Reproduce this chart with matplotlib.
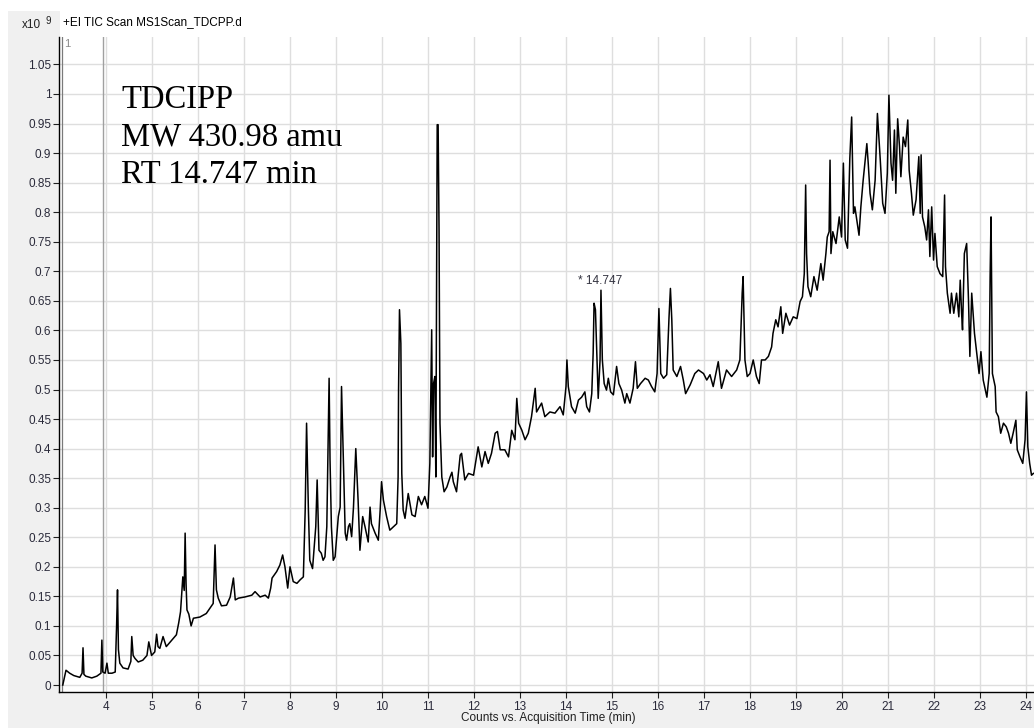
import matplotlib
matplotlib.use("Agg")
import matplotlib.pyplot as plt
from matplotlib.patches import Rectangle

# ---- data (time in min, counts in units of 1e9) ----
time_min = [
    3.06, 3.13, 3.21, 3.30, 3.43, 3.48, 3.50, 3.52, 3.56, 3.69, 3.80, 3.89, 3.91, 3.93, 3.98,
    4.02, 4.05, 4.13, 4.20, 4.23, 4.25, 4.27, 4.30, 4.37, 4.48, 4.54, 4.56, 4.59, 4.63, 4.70,
    4.80, 4.89, 4.93, 4.99, 5.06, 5.10, 5.13, 5.17, 5.24, 5.31, 5.43, 5.53, 5.58, 5.62, 5.67,
    5.70, 5.72, 5.74, 5.76, 5.80, 5.85, 5.90, 6.04, 6.18, 6.26, 6.33, 6.37, 6.40, 6.44, 6.51,
    6.62, 6.70, 6.77, 6.81, 6.88, 7.02, 7.17, 7.24, 7.35, 7.46, 7.53, 7.58, 7.61, 7.71, 7.78,
    7.84, 7.89, 7.95, 8.00, 8.07, 8.15, 8.22, 8.29, 8.33, 8.36, 8.40, 8.43, 8.49, 8.56, 8.59,
    8.63, 8.68, 8.72, 8.76, 8.80, 8.85, 8.87, 8.90, 8.94, 8.98, 9.05, 9.09, 9.12, 9.16, 9.20,
    9.23, 9.27, 9.30, 9.34, 9.38, 9.43, 9.48, 9.52, 9.58, 9.63, 9.70, 9.74, 9.77, 9.85, 9.92,
    9.96, 9.99, 10.03, 10.10, 10.17, 10.25, 10.32, 10.35, 10.36, 10.38, 10.41, 10.43, 10.46,
    10.50, 10.57, 10.65, 10.72, 10.79, 10.86, 10.93, 11.00, 11.04, 11.08, 11.10, 11.12, 11.15,
    11.17, 11.20, 11.22, 11.24, 11.26, 11.30, 11.35, 11.41, 11.48, 11.52, 11.55, 11.62, 11.70,
    11.73, 11.80, 11.88, 11.99, 12.09, 12.17, 12.24, 12.31, 12.38, 12.46, 12.51, 12.57, 12.67,
    12.75, 12.82, 12.89, 12.93, 12.97, 13.04, 13.11, 13.18, 13.25, 13.33, 13.36, 13.47, 13.54,
    13.65, 13.76, 13.87, 13.94, 14.00, 14.02, 14.05, 14.12, 14.20, 14.27, 14.34, 14.41, 14.45,
    14.51, 14.56, 14.59, 14.61, 14.64, 14.67, 14.70, 14.74, 14.76, 14.79, 14.83, 14.88, 14.92,
    14.97, 15.03, 15.10, 15.15, 15.21, 15.28, 15.32, 15.39, 15.46, 15.51, 15.55, 15.62, 15.72,
    15.79, 15.86, 15.93, 15.98, 16.02, 16.06, 16.12, 16.19, 16.24, 16.27, 16.30, 16.33, 16.41,
    16.49, 16.55, 16.60, 16.70, 16.80, 16.88, 16.99, 17.06, 17.13, 17.20, 17.31, 17.38, 17.49,
    17.60, 17.71, 17.78, 17.83, 17.85, 17.89, 17.94, 18.00, 18.07, 18.14, 18.20, 18.25, 18.33,
    18.40, 18.47, 18.50, 18.56, 18.61, 18.67, 18.71, 18.78, 18.86, 18.94, 19.02, 19.09, 19.14,
    19.18, 19.21, 19.23, 19.26, 19.32, 19.39, 19.46, 19.54, 19.59, 19.65, 19.68, 19.72, 19.74,
    19.76, 19.80, 19.87, 19.94, 19.99, 20.03, 20.07, 20.12, 20.17, 20.21, 20.25, 20.28, 20.37,
    20.41, 20.46, 20.54, 20.57, 20.61, 20.66, 20.72, 20.77, 20.83, 20.885, 20.935, 20.985,
    21.02, 21.065, 21.10, 21.14, 21.17, 21.21, 21.25, 21.28, 21.33, 21.38, 21.43, 21.46, 21.51,
    21.55, 21.61, 21.67, 21.70, 21.72, 21.75, 21.80, 21.84, 21.88, 21.91, 21.95, 21.99, 22.02,
    22.07, 22.13, 22.19, 22.23, 22.25, 22.29, 22.35, 22.38, 22.43, 22.49, 22.54, 22.57, 22.60,
    22.62, 22.66, 22.71, 22.75, 22.78, 22.82, 22.88, 22.93, 22.98, 23.02, 23.07, 23.15, 23.20,
    23.22, 23.24, 23.27, 23.33, 23.35, 23.40, 23.45, 23.51, 23.57, 23.62, 23.67, 23.72, 23.78,
    23.81, 23.87, 23.93, 23.98, 24.01, 24.04, 24.08, 24.12, 24.16,
]
counts_e9 = [
    0.000, 0.025, 0.020, 0.016, 0.013, 0.020, 0.063, 0.018, 0.015, 0.012, 0.015, 0.020, 0.076, 0.022, 0.020,
    0.037, 0.020, 0.020, 0.022, 0.100, 0.161, 0.060, 0.037, 0.029, 0.027, 0.040, 0.082, 0.050, 0.045, 0.039,
    0.042, 0.050, 0.073, 0.050, 0.056, 0.086, 0.065, 0.062, 0.082, 0.065, 0.076, 0.085, 0.105, 0.124, 0.183,
    0.160, 0.257, 0.172, 0.127, 0.120, 0.100, 0.113, 0.115, 0.121, 0.130, 0.138, 0.237, 0.161, 0.147, 0.134,
    0.135, 0.149, 0.181, 0.144, 0.147, 0.149, 0.152, 0.158, 0.149, 0.152, 0.147, 0.164, 0.181, 0.192, 0.203,
    0.220, 0.200, 0.164, 0.200, 0.175, 0.172, 0.178, 0.183, 0.296, 0.443, 0.296, 0.211, 0.197, 0.268, 0.347,
    0.228, 0.223, 0.211, 0.217, 0.268, 0.519, 0.381, 0.268, 0.211, 0.217, 0.285, 0.301, 0.505, 0.381, 0.257,
    0.245, 0.268, 0.273, 0.251, 0.301, 0.400, 0.313, 0.228, 0.285, 0.268, 0.242, 0.301, 0.273, 0.257, 0.245,
    0.296, 0.344, 0.313, 0.285, 0.262, 0.268, 0.273, 0.352, 0.500, 0.635, 0.578, 0.358, 0.296,
    0.282, 0.324, 0.288, 0.285, 0.319, 0.305, 0.319, 0.299, 0.375, 0.601, 0.386, 0.510, 0.522,
    0.352, 0.948, 0.948, 0.770, 0.443, 0.352, 0.327, 0.335, 0.352, 0.360, 0.344, 0.327, 0.389,
    0.392, 0.347, 0.358, 0.355, 0.403, 0.369, 0.395, 0.375, 0.392, 0.426, 0.429, 0.398, 0.398,
    0.386, 0.431, 0.415, 0.485, 0.443, 0.431, 0.415, 0.426, 0.454, 0.502, 0.462, 0.477, 0.454,
    0.462, 0.460, 0.471, 0.457, 0.505, 0.550, 0.505, 0.471, 0.460, 0.482, 0.487, 0.496, 0.471,
    0.462, 0.493, 0.561, 0.646, 0.635, 0.561, 0.485, 0.550, 0.668, 0.550, 0.510, 0.499, 0.519,
    0.496, 0.491, 0.539, 0.510, 0.499, 0.477, 0.493, 0.477, 0.502, 0.547, 0.502, 0.510, 0.519,
    0.516, 0.505, 0.496, 0.527, 0.637, 0.527, 0.519, 0.525, 0.623, 0.671, 0.618, 0.533, 0.522,
    0.539, 0.516, 0.493, 0.508, 0.527, 0.533, 0.527, 0.516, 0.525, 0.505, 0.547, 0.502, 0.533,
    0.522, 0.533, 0.550, 0.663, 0.691, 0.550, 0.522, 0.527, 0.550, 0.522, 0.510, 0.550, 0.550,
    0.556, 0.572, 0.595, 0.618, 0.606, 0.640, 0.595, 0.629, 0.609, 0.623, 0.620, 0.649, 0.657,
    0.696, 0.846, 0.730, 0.674, 0.657, 0.691, 0.668, 0.713, 0.685, 0.730, 0.758, 0.767, 0.888,
    0.730, 0.767, 0.747, 0.792, 0.758, 0.883, 0.753, 0.739, 0.891, 0.961, 0.798, 0.809, 0.761,
    0.809, 0.854, 0.916, 0.883, 0.832, 0.804, 0.854, 0.967, 0.891, 0.815, 0.798, 0.866,
    0.998, 0.883, 0.854, 0.939, 0.832, 0.958, 0.911, 0.860, 0.927, 0.911, 0.956, 0.871, 0.832,
    0.795, 0.821, 0.894, 0.798, 0.897, 0.792, 0.775, 0.753, 0.804, 0.725, 0.809, 0.719, 0.764,
    0.708, 0.696, 0.691, 0.829, 0.708, 0.663, 0.629, 0.663, 0.629, 0.663, 0.623, 0.685, 0.629,
    0.601, 0.730, 0.747, 0.651, 0.556, 0.663, 0.595, 0.561, 0.527, 0.564, 0.516, 0.487, 0.527,
    0.691, 0.792, 0.527, 0.505, 0.462, 0.454, 0.426, 0.443, 0.437, 0.426, 0.409, 0.426, 0.448,
    0.398, 0.386, 0.375, 0.415, 0.496, 0.403, 0.375, 0.355, 0.358,
]

x_ticks = list(range(4, 25))
y_ticks = [round(0.05 * i, 2) for i in range(0, 22)]
y_tick_labels = ["0", "0.05", "0.1", "0.15", "0.2", "0.25", "0.3", "0.35", "0.4", "0.45",
                 "0.5", "0.55", "0.6", "0.65", "0.7", "0.75", "0.8", "0.85", "0.9", "0.95",
                 "1", "1.05"]
peak_label_rt = 14.747
peak_label_val = 0.668
title_text = "+EI TIC Scan MS1Scan_TDCPP.d"
xlabel_text = "Counts vs. Acquisition Time (min)"
annot_lines = ["TDCIPP", "MW 430.98 amu", "RT 14.747 min"]

W, H = 1034, 728
SANS = ["Liberation Sans", "DejaVu Sans"]
SERIF = ["Liberation Serif", "DejaVu Serif"]

fig = plt.figure(figsize=(W / 100, H / 100), dpi=100, facecolor="white")

def fx(px):
    return px / W

def fy(py):
    return 1 - py / H

# gray panel and white title strip
fig.patches.append(Rectangle((fx(8), 0), 1 - fx(8), fy(11), transform=fig.transFigure,
                             facecolor="#F0F0F0", edgecolor="none", zorder=-10))
fig.patches.append(Rectangle((fx(60), fy(37)), 1 - fx(60), fy(11) - fy(37),
                             transform=fig.transFigure, facecolor="white",
                             edgecolor="none", zorder=-9))

ax = fig.add_axes([fx(59), fy(692), 1 - fx(59), fy(37) - fy(692)])
ax.set_facecolor("white")
ax.set_xlim(2.978, 24.174)
ax.set_ylim(-0.0118, 1.0964)

ax.set_xticks(x_ticks)
ax.set_xticklabels([str(t) for t in x_ticks])
ax.set_yticks(y_ticks)
ax.set_yticklabels(y_tick_labels)
ax.grid(True, color="#DEDEDE", linewidth=1.0, zorder=0)
ax.set_axisbelow(True)

for s in ["top", "right"]:
    ax.spines[s].set_visible(False)
for s in ["left", "bottom"]:
    ax.spines[s].set_color("black")
    ax.spines[s].set_linewidth(1.0)

ax.tick_params(axis="both", direction="out", length=4, width=0.8, color="#202020",
               labelsize=8.5, labelcolor="#2A2A3A")
ax.tick_params(axis="y", pad=1.5)
ax.tick_params(axis="x", pad=2.5)
for lab in ax.get_xticklabels() + ax.get_yticklabels():
    lab.set_family(SANS)

# marker lines
ax.axvline(3.043, color="#7A7A7A", linewidth=0.9, zorder=1)
ax.axvline(3.924, color="#A0A0A0", linewidth=1.0, zorder=1)

# chromatogram
ax.plot(time_min, counts_e9, color="black", linewidth=1.1, zorder=3)

# peak label
ax.annotate("* 14.747", xy=(peak_label_rt, peak_label_val), xytext=(-16, 2),
            textcoords="offset points", fontsize=8.5, family=SANS, color="#333340",
            va="bottom", ha="left")

# small "1" in corner
fig.text(fx(64), fy(44), "1", fontsize=8, family=SANS, color="#8A8A8A", va="center", ha="left")

# header texts
fig.text(fx(63), fy(22), title_text, fontsize=8.5, family=SANS, color="black",
         va="center", ha="left")
fig.text(fx(22), fy(28.5), "x10", fontsize=8.5, family=SANS, color="#202020",
         va="baseline", ha="left")
fig.text(fx(46), fy(24.5), "9", fontsize=7, family=SANS, color="#202020",
         va="baseline", ha="left")

# x label
fig.text(fx(548), fy(718), xlabel_text, fontsize=8.5, family=SANS, color="#202020",
         va="center", ha="center")

# compound annotation
baselines = [108.3, 145.0, 182.7]
for line, b in zip(annot_lines, baselines):
    fig.text(fx(121), fy(b), line, fontsize=23.5, family=SERIF, color="black",
             va="baseline", ha="left")

fig.savefig("out.png", dpi=100, facecolor=fig.get_facecolor())
